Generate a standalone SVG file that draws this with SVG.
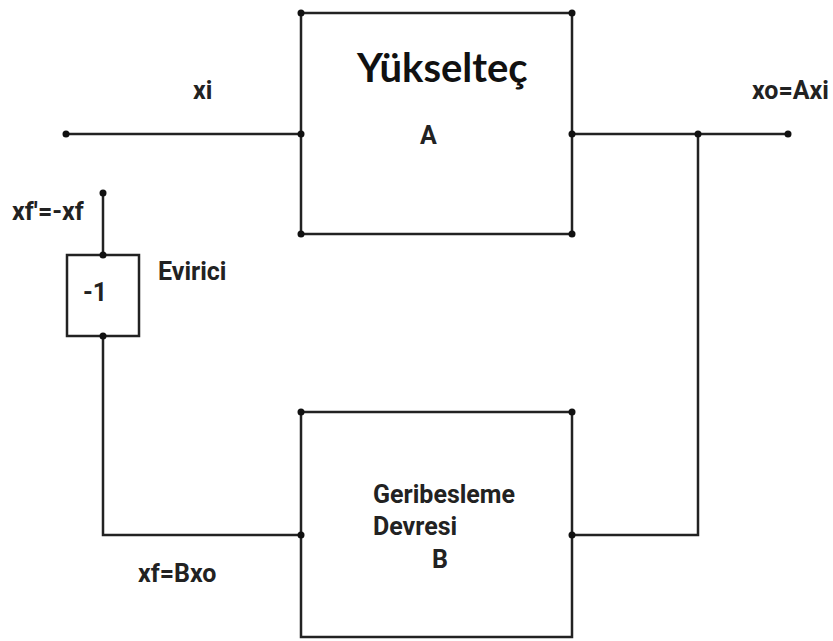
<svg xmlns="http://www.w3.org/2000/svg" width="833" height="641" viewBox="0 0 833 641">
<style>
.ln{fill:none;stroke:#222;stroke-width:2.5;stroke-linejoin:miter}
.dot{fill:#111}
.lbl{font-family:Roboto,"Liberation Sans",Arial,sans-serif;font-weight:bold;font-size:25px;fill:#222}
.ttl{font-family:Lato,"Open Sans",sans-serif;font-weight:bold;font-size:40px;fill:#111}
</style>
<rect width="833" height="641" fill="#fff"/>
<g id="connectors">
<path class="ln" d="M66,134 H301"/>
<path class="ln" d="M572,134 H788"/>
<path class="ln" d="M698,134 V535 H572"/>
<path class="ln" d="M301,535 H103 V336"/>
<path class="ln" d="M103,255 V193"/>
</g>
<g id="amplifier">
<rect class="ln" x="301" y="13" width="271" height="221"/>
<text class="ttl" x="357" y="82">Yükselteç</text>
<text class="lbl" x="420" y="144">A</text>
</g>
<g id="inverter">
<rect class="ln" x="67" y="255" width="72" height="81"/>
<text class="lbl" x="83" y="301">-1</text>
<text class="lbl" x="158" y="280">Evirici</text>
</g>
<g id="feedback">
<rect class="ln" x="301" y="412" width="271" height="225"/>
<text class="lbl" x="373" y="503">Geribesleme</text>
<text class="lbl" x="373" y="535">Devresi</text>
<text class="lbl" x="432" y="568">B</text>
</g>
<g id="labels">
<text class="lbl" x="193" y="99">xi</text>
<text class="lbl" x="752" y="99">xo=Axi</text>
<text class="lbl" x="12" y="220">xf'=-xf</text>
<text class="lbl" x="138" y="582">xf=Bxo</text>
</g>
<g id="dots">
<circle class="dot" cx="301" cy="13" r="3.5"/>
<circle class="dot" cx="572" cy="13" r="3.5"/>
<circle class="dot" cx="301" cy="234" r="3.5"/>
<circle class="dot" cx="572" cy="234" r="3.5"/>
<circle class="dot" cx="301" cy="134" r="3.5"/>
<circle class="dot" cx="572" cy="134" r="3.5"/>
<circle class="dot" cx="66" cy="134" r="3.5"/>
<circle class="dot" cx="698" cy="134" r="3.5"/>
<circle class="dot" cx="788" cy="134" r="3.5"/>
<circle class="dot" cx="103" cy="193" r="3.5"/>
<circle class="dot" cx="103" cy="255" r="3.5"/>
<circle class="dot" cx="103" cy="336" r="3.5"/>
<circle class="dot" cx="301" cy="412" r="3.5"/>
<circle class="dot" cx="572" cy="412" r="3.5"/>
<circle class="dot" cx="301" cy="535" r="3.5"/>
<circle class="dot" cx="572" cy="535" r="3.5"/>
</g>
</svg>
